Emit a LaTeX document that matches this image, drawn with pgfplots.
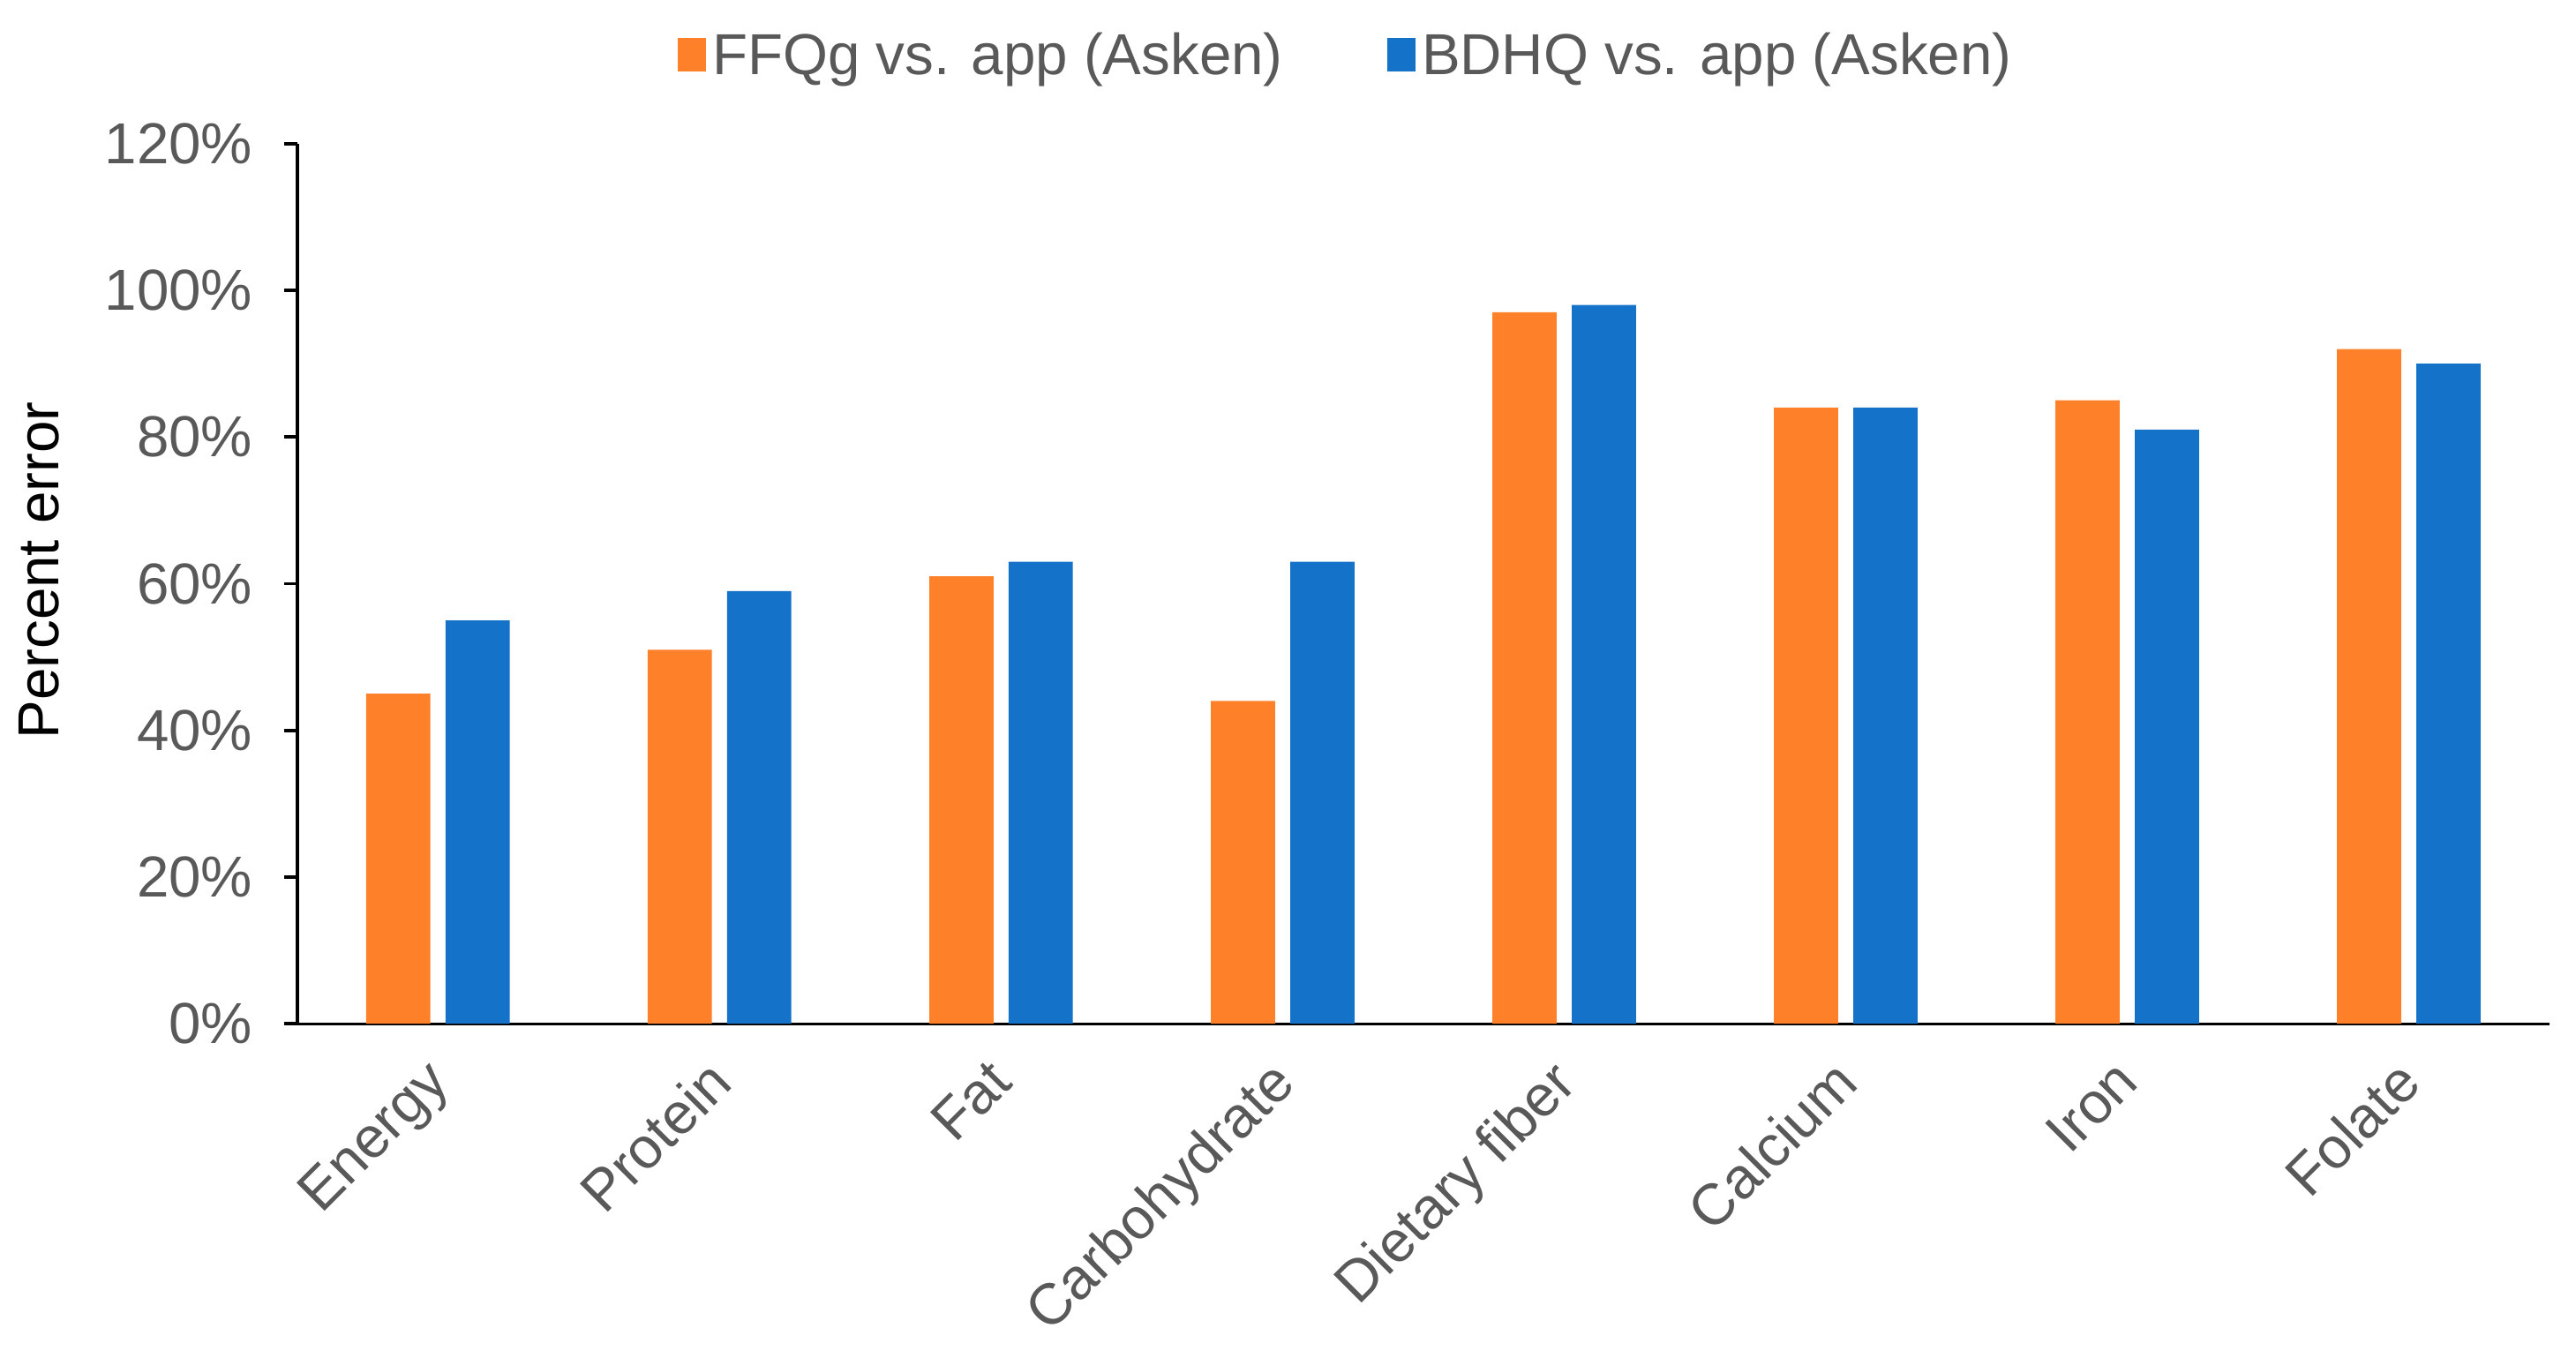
\documentclass[border=0pt]{standalone}
\usepackage{pgfplots}
\pgfplotsset{compat=1.18}
\usepackage{fontspec}
\setmainfont{Liberation Sans}
\definecolor{ffq}{RGB}{254,128,40}
\definecolor{bdhq}{RGB}{21,114,201}
\definecolor{tickgray}{RGB}{89,89,89}

\begin{document}
\begin{tikzpicture}[font=\fontsize{17.5}{21}\selectfont]
\begin{axis}[
  scale only axis, width=682pt, height=266.5pt,
  ybar, bar width=0.228,
  xmin=-0.5, xmax=7.5, ymin=0, ymax=120,
  axis lines*=left,
  axis line style={line width=1pt},
  x axis line style={line width=0.8pt},
  xtick=data,
  xticklabels={Energy,Protein,Fat,Carbohydrate,Dietary fiber,Calcium,Iron,Folate},
  x tick label style={xshift=-4.5pt, yshift=-1pt, rotate=45, anchor=north east, text=tickgray},
  xtick style={draw=none},
  ytick={0,20,...,120},
  yticklabel={\pgfmathprintnumber{\tick}\%},
  /pgf/number format/assume math mode=true,
  y tick label style={text=tickgray, xshift=-6pt},
  ytick style={line width=1pt, black},
  tick align=outside, major tick length=4pt,
  ylabel={Percent error},
  ylabel style={at={(axis description cs:-0.1145,0.515)}, anchor=center},
  legend columns=-1,
  legend style={at={(axis description cs:0.4665,1.0994)}, anchor=center,
    draw=none, text=tickgray, font=\fontsize{17.5}{21}\selectfont,
    /tikz/every even column/.append style={column sep=29.5pt}},
  legend image code/.code={\fill[#1] (-3.5pt,-4.5pt) rectangle (5pt,5.5pt);},
]
\addplot[fill=ffq, draw=none, bar shift=-0.141]
  coordinates {(0,45) (1,51) (2,61) (3,44) (4,97) (5,84) (6,85) (7,92)};
\addlegendentry{FFQg vs. app (Asken)}
\addplot[fill=bdhq, draw=none, bar shift=0.141]
  coordinates {(0,55) (1,59) (2,63) (3,63) (4,98) (5,84) (6,81) (7,90)};
\addlegendentry{BDHQ vs. app (Asken)}
\coordinate (o) at (rel axis cs:0,0);
\end{axis}
\path (o) ++(-90pt,-96.7pt) (o) ++(690pt,310pt);
\end{tikzpicture}
\end{document}
